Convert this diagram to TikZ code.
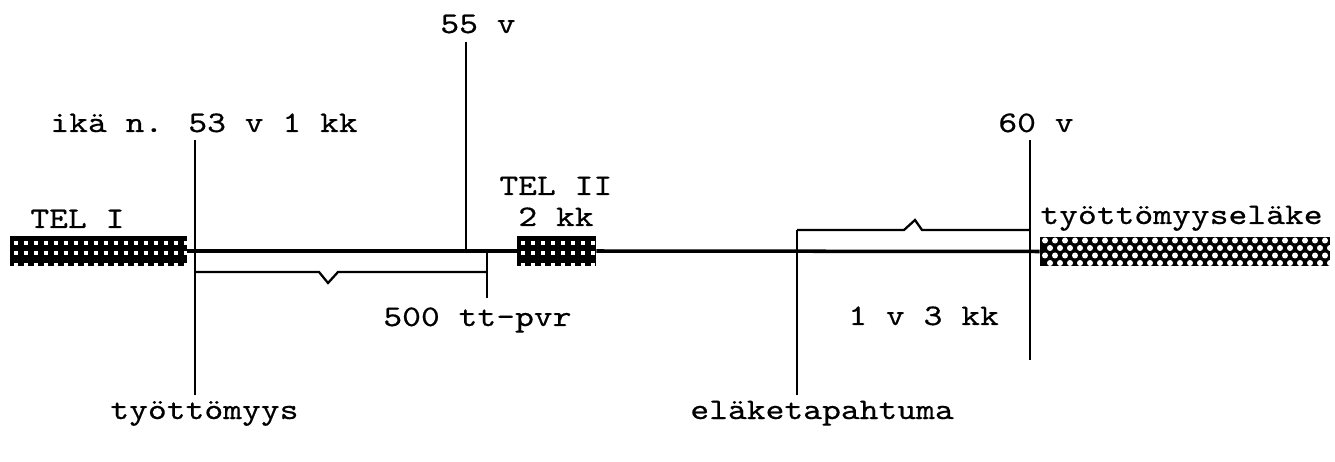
\documentclass[tikz,border=0pt]{standalone}
\usepackage{fontspec}
\usetikzlibrary{positioning}
\newfontfamily\typewr[FakeStretch=1.2,FakeBold=0.5]{lmmono10-regular.otf}
\tikzset{
  lbl/.style={font=\typewr\fontsize{17}{21}\selectfont, inner sep=0pt, anchor=base west},
  axis/.style={line width=2pt},
  tick/.style={line width=1.6pt},
  brace/.style={line width=1.3pt, line join=miter},
  telblock/.style={rectangle, fill=black, inner sep=0pt, minimum height=0.6cm},
  hole/.style={fill=white}
}

\begin{document}
\begin{tikzpicture}[x=0.02cm, y=-0.02cm]
\useasboundingbox (0,0) rectangle (1335,462);
% benefit periods
\node[telblock, minimum width=3.54cm] (tel1) at (98.5,251) {};
\node[telblock, minimum width=1.58cm] (tel2) at (556.5,251) {};
\node[telblock, minimum width=5.8cm, minimum height=0.58cm] (tyel) at (1185,251.5) {};
\foreach \dx in {16,26,...,186}{
  \foreach \dy in {241,251}{\fill[hole] (\dx-2,\dy) rectangle ++(4,4);}
  \fill[hole] (\dx-2,263) rectangle ++(4,3);
}
\foreach \dx in {523,533,...,593}{
  \foreach \dy in {241,251}{\fill[hole] (\dx-2,\dy) rectangle ++(4,4);}
  \fill[hole] (\dx-2,263) rectangle ++(4,3);
}
\foreach \r in {0,1,2,3}{
  \foreach \c in {0,...,28}{
    \fill[hole] ({1045+10*\c+5*mod(\r,2)},{240.5+7.5*\r}) circle (0.06cm);
  }
}
% time line
\draw[axis] (tel1.east) -- (tel2.west);
\draw[axis] (tel2.east) -- (tyel.west);
% ages and events
\coordinate (a53top) at (195,140);
\coordinate (a53bot) at (195,395);
\coordinate (a55top) at (466,42);
\coordinate (a55bot) at (466,251);
\coordinate (pvrtop) at (487,251);
\coordinate (pvrbot) at (487,298);
\coordinate (eltop) at (797,230);
\coordinate (elbot) at (797,395);
\coordinate (a60top) at (1030,140);
\coordinate (a60bot) at (1030,360);
\coordinate (pvrl) at (195,272);
\coordinate (pvrr) at (487,272);
\coordinate (odotr) at (1030,230);
\draw[tick] (a53top) -- (a53bot);
\draw[tick] (a55top) -- (a55bot);
\draw[tick] (pvrtop) -- (pvrbot);
\draw[tick] (eltop) -- (elbot);
\draw[tick] (a60top) -- (a60bot);
\draw[brace] (pvrl) -- (319,272) -- (328,283) -- (338,272) -- (pvrr);
\draw[brace] (eltop) -- (904,230) -- (915,220) -- (922,230) -- (odotr);
% texts
\node[lbl] (t55) at (440,33) {55 v};
\node[lbl] (t53) at (50,132) {ikä n. 53 v 1 kk};
\node[lbl] (t60) at (998,132) {60 v};
\node[lbl] (ttel1) at (30,228) {TEL I};
\node[lbl] (ttel2) at (499,195) {TEL II};
\node[lbl] (t2kk) at (518,226) {2 kk};
\node[lbl] (ttyel) at (1040,224) {työttömyyseläke};
\node[lbl] (tpvr) at (383,326) {500 tt-pvr};
\node[lbl] (t1v) at (848,325) {1 v 3 kk};
\node[lbl] (ttt) at (110,419) {työttömyys};
\node[lbl] (tel) at (690,419) {eläketapahtuma};
\end{tikzpicture}
\end{document}
